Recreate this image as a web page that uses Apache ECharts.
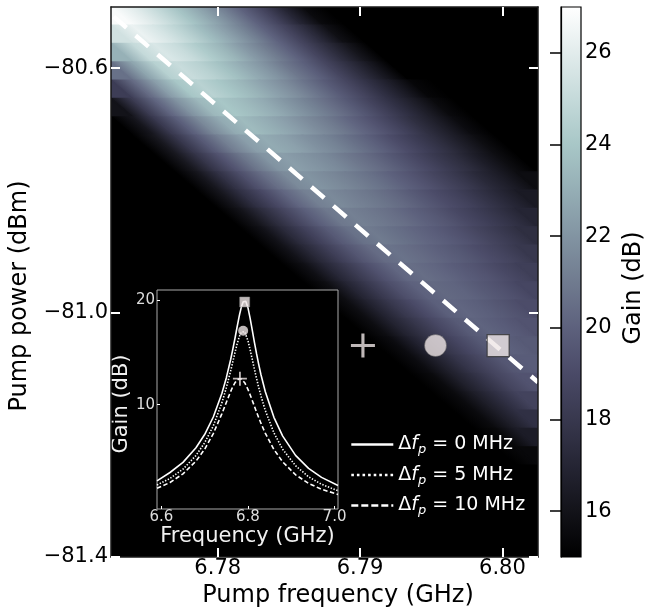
<!DOCTYPE html>
<html>
<head>
<meta charset="utf-8">
<script src="https://cdn.jsdelivr.net/npm/echarts@6/dist/echarts.min.js"></script>
<style>
html,body{margin:0;padding:0;background:#fff;}
#chart{width:647px;height:616px;}
</style>
</head>
<body>
<div id="chart"></div>
<script>
// ---------- data ----------
// gain-map cell centres
const freqCols = [6.77325, 6.77475, 6.77625, 6.77775, 6.77925, 6.78075, 6.78225, 6.78375, 6.78525, 6.78675,
                  6.78825, 6.78975, 6.79125, 6.79275, 6.79425, 6.79575, 6.79725, 6.79875, 6.80025, 6.80175];
const powerRows = [-80.515, -80.545, -80.575, -80.605, -80.635, -80.665, -80.695, -80.725, -80.755, -80.785,
                   -80.815, -80.845, -80.875, -80.905, -80.935, -80.965, -80.995, -81.025, -81.055, -81.085,
                   -81.115, -81.145, -81.175, -81.205, -81.235, -81.265, -81.295, -81.325, -81.355, -81.385];
// gain (dB), one row per pump power (top row first), one value per frequency column
const gainGrid = [
  [26.8, 26.0, 25.0, 23.9, 22.7, 21.4, 20.0, 18.6, 17.0, 15.5, 15, 15, 15, 15, 15, 15, 15, 15, 15, 15],
  [25.4, 26.3, 25.6, 24.7, 23.6, 22.5, 21.3, 20.0, 18.7, 17.3, 15.8, 15, 15, 15, 15, 15, 15, 15, 15, 15],
  [23.1, 25.0, 25.7, 25.1, 24.2, 23.3, 22.2, 21.1, 20.0, 18.7, 17.4, 16.1, 15, 15, 15, 15, 15, 15, 15, 15],
  [20.6, 22.7, 24.5, 25.1, 24.6, 23.8, 22.9, 22.0, 20.9, 19.9, 18.7, 17.5, 16.3, 15.0, 15, 15, 15, 15, 15, 15],
  [18.3, 20.4, 22.4, 24.0, 24.6, 24.0, 23.3, 22.5, 21.7, 20.7, 19.7, 18.7, 17.6, 16.5, 15.3, 15, 15, 15, 15, 15],
  [16.0, 18.2, 20.2, 22.0, 23.4, 24.0, 23.5, 22.9, 22.1, 21.3, 20.5, 19.6, 18.6, 17.6, 16.6, 15.5, 15, 15, 15, 15],
  [15, 16.1, 18.1, 19.9, 21.6, 22.9, 23.5, 23.0, 22.4, 21.7, 21.0, 20.2, 19.4, 18.5, 17.5, 16.6, 15.6, 15, 15, 15],
  [15, 15, 16.2, 18.0, 19.7, 21.2, 22.4, 22.9, 22.5, 21.9, 21.3, 20.6, 19.9, 19.1, 18.3, 17.5, 16.6, 15.7, 15, 15],
  [15, 15, 15, 16.2, 17.9, 19.4, 20.8, 22.0, 22.4, 22.0, 21.5, 20.9, 20.3, 19.6, 18.9, 18.1, 17.4, 16.5, 15.7, 15],
  [15, 15, 15, 15, 16.1, 17.7, 19.2, 20.5, 21.6, 22.0, 21.6, 21.1, 20.6, 20.0, 19.4, 18.7, 18.0, 17.2, 16.5, 15.7],
  [15, 15, 15, 15, 15, 16.1, 17.6, 18.9, 20.2, 21.2, 21.6, 21.2, 20.8, 20.3, 19.7, 19.1, 18.5, 17.8, 17.1, 16.4],
  [15, 15, 15, 15, 15, 15, 16.0, 17.4, 18.7, 19.9, 20.9, 21.2, 20.9, 20.5, 20.0, 19.5, 18.9, 18.3, 17.7, 17.0],
  [15, 15, 15, 15, 15, 15, 15, 15.9, 17.3, 18.5, 19.7, 20.6, 21.0, 20.6, 20.2, 19.8, 19.3, 18.7, 18.1, 17.5],
  [15, 15, 15, 15, 15, 15, 15, 15, 15.9, 17.2, 18.4, 19.5, 20.4, 20.7, 20.4, 20.0, 19.6, 19.1, 18.6, 18.0],
  [15, 15, 15, 15, 15, 15, 15, 15, 15, 15.8, 17.1, 18.2, 19.3, 20.2, 20.5, 20.2, 19.8, 19.4, 18.9, 18.4],
  [15, 15, 15, 15, 15, 15, 15, 15, 15, 15, 15.7, 17.0, 18.1, 19.2, 20.0, 20.3, 20.1, 19.7, 19.3, 18.8],
  [15, 15, 15, 15, 15, 15, 15, 15, 15, 15, 15, 15.7, 16.9, 18.0, 19.0, 19.9, 20.2, 19.9, 19.5, 19.1],
  [15, 15, 15, 15, 15, 15, 15, 15, 15, 15, 15, 15, 15.7, 16.9, 17.9, 18.9, 19.7, 20.1, 19.8, 19.4],
  [15, 15, 15, 15, 15, 15, 15, 15, 15, 15, 15, 15, 15, 15.6, 16.8, 17.9, 18.8, 19.6, 20.0, 19.7],
  [15, 15, 15, 15, 15, 15, 15, 15, 15, 15, 15, 15, 15, 15, 15.6, 16.7, 17.8, 18.7, 19.5, 19.8],
  [15, 15, 15, 15, 15, 15, 15, 15, 15, 15, 15, 15, 15, 15, 15, 15.5, 16.7, 17.7, 18.7, 19.4],
  [15, 15, 15, 15, 15, 15, 15, 15, 15, 15, 15, 15, 15, 15, 15, 15, 15.5, 16.6, 17.6, 18.6],
  [15, 15, 15, 15, 15, 15, 15, 15, 15, 15, 15, 15, 15, 15, 15, 15, 15, 15.5, 16.6, 17.6],
  [15, 15, 15, 15, 15, 15, 15, 15, 15, 15, 15, 15, 15, 15, 15, 15, 15, 15, 15.4, 16.5],
  [15, 15, 15, 15, 15, 15, 15, 15, 15, 15, 15, 15, 15, 15, 15, 15, 15, 15, 15, 15.4],
  [15, 15, 15, 15, 15, 15, 15, 15, 15, 15, 15, 15, 15, 15, 15, 15, 15, 15, 15, 15],
  [15, 15, 15, 15, 15, 15, 15, 15, 15, 15, 15, 15, 15, 15, 15, 15, 15, 15, 15, 15],
  [15, 15, 15, 15, 15, 15, 15, 15, 15, 15, 15, 15, 15, 15, 15, 15, 15, 15, 15, 15],
  [15, 15, 15, 15, 15, 15, 15, 15, 15, 15, 15, 15, 15, 15, 15, 15, 15, 15, 15, 15],
  [15, 15, 15, 15, 15, 15, 15, 15, 15, 15, 15, 15, 15, 15, 15, 15, 15, 15, 15, 15]
];
// dashed optimum line (end points)
const ridgeFreq = [6.7725, 6.8025];
const ridgePower = [-80.512, -81.114];
// operating points in the main map: plus, circle, square
const markerFreq = [6.7902, 6.7953, 6.7997];
const markerPower = [-81.054, -81.054, -81.054];
// inset gain curves
const insetFreq = [6.59, 6.62, 6.65, 6.68, 6.70, 6.72, 6.74, 6.75, 6.76, 6.765, 6.77, 6.775, 6.78, 6.7815, 6.785,
                   6.789, 6.7925, 6.795, 6.80, 6.805, 6.81, 6.815, 6.82, 6.825, 6.83, 6.84, 6.86, 6.88, 6.91, 6.94, 6.97, 7.008];
const gainSolid  = [2.7, 3.5, 4.47, 5.87, 7.14, 8.82, 11.1, 12.57, 14.31, 15.3, 16.35, 17.45, 18.51, 18.8, 19.4,
                    19.86, 20.0, 19.92, 19.31, 18.31, 17.15, 15.98, 14.87, 13.84, 12.9, 11.27, 8.79, 7.01, 5.14, 3.89, 3.03, 2.25];
const gainDotted = [2.3, 2.93, 3.82, 5.13, 6.35, 7.97, 10.2, 11.61, 13.22, 14.1, 14.98, 15.82, 16.52, 16.69, 16.98,
                    17.1, 16.99, 16.8, 16.15, 15.29, 14.35, 13.4, 12.5, 11.64, 10.86, 9.46, 7.3, 5.74, 4.15, 3.09, 2.37, 1.75];
const gainDashed = [1.98, 2.54, 3.37, 4.59, 5.73, 7.23, 9.15, 10.21, 11.26, 11.73, 12.1, 12.37, 12.49, 12.5, 12.46,
                    12.31, 12.11, 11.92, 11.47, 10.96, 10.41, 9.85, 9.28, 8.75, 8.23, 7.27, 5.71, 4.53, 3.28, 2.46, 1.89, 1.4];
// inset peak markers: plus (10 MHz), circle (5 MHz), square (0 MHz)
const peakFreq = [6.7815, 6.789, 6.7925];
const peakGain = [12.5, 17.1, 19.85];
const legendNames = ['0 MHz', '5 MHz', '10 MHz'];
// ticks
const freqTicks = [6.78, 6.79, 6.80];
const powerTicks = [-81.4, -81.0, -80.6];
const gainTicks = [16, 18, 20, 22, 24, 26];
const insetFreqTicks = [6.6, 6.8, 7.0];
const insetGainTicks = [10, 20];
const gainMin = 15, gainMax = 27;

// ---------- style ----------
const FONT = 'DejaVu Sans';
const MARK = '#efe6e6';
const PLUS = 'path://M8.7,0H11.3V8.7H20V11.3H11.3V20H8.7V11.3H0V8.7H8.7Z';
const bone = ['#000000', '#131319', '#252534', '#38384e', '#4a4a67', '#5d617d', '#707b8f', '#8294a2',
              '#95aeb5', '#a8c7c7', '#c5dada', '#e2ecec', '#ffffff'];

const nCols = freqCols.length;
const rowStep = Math.abs(powerRows[1] - powerRows[0]);
const heatData = [];
gainGrid.forEach((row, r) => row.forEach((g, i) => heatData.push([freqCols[i], powerRows[r], g])));

// each cell is shaded towards its right-hand neighbour and sheared along the ridge direction
function renderCell(params, api) {
  const idx = params.dataIndexInside;
  const col = idx % nCols;
  const c0 = api.coord([api.value(0), api.value(1)]);
  const hh = api.size([0, rowStep])[1] / 2;
  const r0 = api.coord([ridgeFreq[0], ridgePower[0]]);
  const r1 = api.coord([ridgeFreq[1], ridgePower[1]]);
  const s = hh * (r1[0] - r0[0]) / (r1[1] - r0[1]);
  const top = c0[1] - hh, bot = c0[1] + hh;
  const colA = api.visual('color');
  const kids = [];
  if (col < nCols - 1) {
    const c1 = api.coord([api.value(0, idx + 1), api.value(1, idx + 1)]);
    const colB = api.visual('color', idx + 1);
    const k = (c1[0] - c0[0]) * hh / (hh * hh + s * s);
    const grad = new echarts.graphic.LinearGradient(c0[0], c0[1], c0[0] + k * hh, c0[1] - k * s,
      [{offset: 0, color: colA}, {offset: 1, color: colB}], true);
    kids.push({type: 'polygon',
      shape: {points: [[c0[0] - s, top], [c1[0] - s, top], [c1[0] + s, bot], [c0[0] + s, bot]]},
      style: {fill: grad, stroke: grad, lineWidth: 1.6}});
  } else {
    kids.push({type: 'polygon',
      shape: {points: [[c0[0] - s, top], [c0[0] + 80, top], [c0[0] + 80, bot], [c0[0] + s, bot]]},
      style: {fill: colA, stroke: colA, lineWidth: 1.6}});
  }
  if (col === 0) {
    kids.push({type: 'polygon',
      shape: {points: [[c0[0] - 80, top], [c0[0] - s, top], [c0[0] + s, bot], [c0[0] - 80, bot]]},
      style: {fill: colA, stroke: colA, lineWidth: 1.6}});
  }
  return {type: 'group', children: kids};
}

const minusFmt = v => (v < 0 ? '\u2212' : '') + Math.abs(v).toFixed(1);
const frameLine = {show: true, onZero: false, lineStyle: {color: '#1a1a1a', width: 1.5}};
const whiteTick = vals => ({show: true, inside: true, length: 9, customValues: vals, lineStyle: {color: '#fff', width: 2}});

const chart = echarts.init(document.getElementById('chart'), null, {renderer: 'canvas'});
const option = {
  animation: false,
  backgroundColor: '#fff',
  textStyle: {fontFamily: FONT},
  grid: [
    {left: 111, top: 7, width: 427, height: 550, show: true, backgroundColor: '#000', borderWidth: 0},
    {left: 157, top: 290, width: 181, height: 219, show: true, backgroundColor: '#000',
     borderColor: '#aaaaaa', borderWidth: 1, z: 3},
    {left: 561, top: 7, width: 22, height: 550, show: true, backgroundColor: 'transparent',
     borderColor: '#000', borderWidth: 1.2, z: 10}
  ],
  visualMap: {
    show: false, type: 'continuous', seriesIndex: 0, dimension: 2,
    min: gainMin, max: gainMax, inRange: {color: bone}
  },
  xAxis: [
    {gridIndex: 0, type: 'value', min: 6.7725, max: 6.8025, position: 'bottom', z: 10,
     axisLine: frameLine, axisTick: whiteTick(freqTicks), splitLine: {show: false},
     axisLabel: {customValues: freqTicks, formatter: v => v.toFixed(2), color: '#000', fontSize: 21, margin: 1, fontFamily: FONT},
     name: 'Pump frequency (GHz)', nameLocation: 'middle', nameGap: 27,
     nameTextStyle: {fontSize: 24, color: '#000', fontFamily: FONT, padding: [0, 0, 0, 27]}},
    {gridIndex: 0, type: 'value', min: 6.7725, max: 6.8025, position: 'top', z: 10,
     axisLine: frameLine, axisTick: whiteTick(freqTicks), splitLine: {show: false}, axisLabel: {show: false}},
    {gridIndex: 1, type: 'value', min: 6.59, max: 7.008, position: 'bottom', z: 6,
     axisLine: {show: false}, splitLine: {show: false},
     axisTick: {show: true, inside: true, length: 3, customValues: insetFreqTicks, lineStyle: {color: '#fff', width: 1}},
     axisLabel: {customValues: insetFreqTicks, formatter: v => v.toFixed(1), color: '#dddddd', fontSize: 15, margin: 1, fontFamily: FONT},
     name: 'Frequency (GHz)', nameLocation: 'middle', nameGap: 13,
     nameTextStyle: {fontSize: 21, color: '#f0f0f0', fontFamily: FONT}},
    {gridIndex: 2, type: 'value', min: 0, max: 1, show: false}
  ],
  yAxis: [
    {gridIndex: 0, type: 'value', min: -81.4, max: -80.5, position: 'left', z: 10,
     axisLine: frameLine, axisTick: whiteTick(powerTicks), splitLine: {show: false},
     axisLabel: {customValues: powerTicks, formatter: minusFmt, color: '#000', fontSize: 21, margin: 3, fontFamily: FONT},
     name: 'Pump power (dBm)', nameLocation: 'middle', nameGap: 79,
     nameTextStyle: {fontSize: 24, color: '#000', fontFamily: FONT, padding: [0, 28, 0, 0]}},
    {gridIndex: 0, type: 'value', min: -81.4, max: -80.5, position: 'right', z: 10,
     axisLine: frameLine, axisTick: whiteTick(powerTicks), splitLine: {show: false}, axisLabel: {show: false}},
    {gridIndex: 1, type: 'value', min: 0, max: 21, position: 'left', z: 6,
     axisLine: {show: false}, splitLine: {show: false},
     axisTick: {show: true, inside: true, length: 3, customValues: insetGainTicks, lineStyle: {color: '#fff', width: 1}},
     axisLabel: {customValues: insetGainTicks, color: '#dddddd', fontSize: 15, margin: 2, fontFamily: FONT},
     name: 'Gain (dB)', nameLocation: 'middle', nameGap: 19,
     nameTextStyle: {fontSize: 21, color: '#f0f0f0', fontFamily: FONT, padding: [0, 9, 0, 0]}},
    {gridIndex: 2, type: 'value', min: gainMin, max: gainMax, position: 'right', z: 11,
     axisLine: {show: true, lineStyle: {color: '#000', width: 1.2}}, splitLine: {show: false},
     axisTick: {show: true, inside: true, length: 11, customValues: gainTicks, lineStyle: {color: '#000', width: 1.5}},
     axisLabel: {customValues: gainTicks, color: '#000', fontSize: 21, margin: 4, fontFamily: FONT},
     name: 'Gain (dB)', nameLocation: 'middle', nameGap: 41,
     nameTextStyle: {fontSize: 24, color: '#000', fontFamily: FONT, padding: [0, 12, 0, 0]}}
  ],
  legend: {
    orient: 'vertical', left: 345, top: 430, itemWidth: 42, itemHeight: 14, itemGap: 9,
    selectedMode: false, z: 8, itemStyle: {opacity: 0},
    data: [
      {name: legendNames[0], lineStyle: {width: 2.6, type: 'solid'}},
      {name: legendNames[1], lineStyle: {width: 2.6, type: [2.6, 3]}},
      {name: legendNames[2], lineStyle: {width: 2.6, type: [7, 3]}}
    ],
    formatter: n => '{d|\u0394}{f|f}{p|p}{t| = ' + n + '}',
    textStyle: {
      color: '#fff', fontSize: 19, fontFamily: FONT,
      rich: {
        d: {color: '#fff', fontSize: 19, lineHeight: 24, fontFamily: FONT},
        f: {color: '#fff', fontSize: 19, lineHeight: 24, fontStyle: 'italic', fontFamily: FONT},
        p: {color: '#fff', fontSize: 13, lineHeight: 24, fontStyle: 'italic', verticalAlign: 'bottom', fontFamily: FONT},
        t: {color: '#fff', fontSize: 19, lineHeight: 24, fontFamily: FONT}
      }
    }
  },
  series: [
    {type: 'custom', xAxisIndex: 0, yAxisIndex: 0, z: 2, silent: true, clip: true,
     data: heatData, renderItem: renderCell},
    {type: 'line', xAxisIndex: 0, yAxisIndex: 0, z: 5, silent: true, symbol: 'none',
     data: ridgeFreq.map((f, i) => [f, ridgePower[i]]),
     lineStyle: {color: '#fff', width: 4.5, type: [17, 12], dashOffset: 25.5, cap: 'butt'}},
    {type: 'scatter', xAxisIndex: 0, yAxisIndex: 0, z: 6, silent: true,
     data: [[markerFreq[0], markerPower[0]]], symbol: PLUS, symbolSize: 24, itemStyle: {color: MARK}},
    {type: 'scatter', xAxisIndex: 0, yAxisIndex: 0, z: 6, silent: true,
     data: [[markerFreq[1], markerPower[1]]], symbol: 'circle', symbolSize: 22,
     itemStyle: {color: MARK, borderColor: '#555', borderWidth: 0.6}},
    {type: 'scatter', xAxisIndex: 0, yAxisIndex: 0, z: 6, silent: true,
     data: [[markerFreq[2], markerPower[2]]], symbol: 'rect', symbolSize: 22,
     itemStyle: {color: MARK, borderColor: '#333', borderWidth: 1.2}},
    {type: 'line', name: legendNames[0], xAxisIndex: 2, yAxisIndex: 2, z: 5, silent: true, symbol: 'none',
     itemStyle: {color: '#fff'},
     data: insetFreq.map((f, i) => [f, gainSolid[i]]), lineStyle: {color: '#fff', width: 1.6, type: 'solid'}},
    {type: 'line', name: legendNames[1], xAxisIndex: 2, yAxisIndex: 2, z: 5, silent: true, symbol: 'none',
     itemStyle: {color: '#fff'},
     data: insetFreq.map((f, i) => [f, gainDotted[i]]), lineStyle: {color: '#fff', width: 1.6, type: [1.4, 1.6]}},
    {type: 'line', name: legendNames[2], xAxisIndex: 2, yAxisIndex: 2, z: 5, silent: true, symbol: 'none',
     itemStyle: {color: '#fff'},
     data: insetFreq.map((f, i) => [f, gainDashed[i]]), lineStyle: {color: '#fff', width: 1.6, type: [4.5, 2.5]}},
    {type: 'scatter', xAxisIndex: 2, yAxisIndex: 2, z: 6, silent: true,
     data: [[peakFreq[0], peakGain[0]]], symbol: PLUS, symbolSize: 14, itemStyle: {color: MARK}},
    {type: 'scatter', xAxisIndex: 2, yAxisIndex: 2, z: 6, silent: true,
     data: [[peakFreq[1], peakGain[1]]], symbol: 'circle', symbolSize: 10, itemStyle: {color: MARK}},
    {type: 'scatter', xAxisIndex: 2, yAxisIndex: 2, z: 6, silent: true,
     data: [[peakFreq[2], peakGain[2]]], symbol: 'rect', symbolSize: 10,
     itemStyle: {color: MARK, borderColor: '#888', borderWidth: 0.6}},
    {type: 'custom', xAxisIndex: 3, yAxisIndex: 3, z: 2, silent: true,
     data: [[0, gainMin, gainMax]],
     renderItem: (params, api) => {
       const p0 = api.coord([0, api.value(1)]);
       const p1 = api.coord([1, api.value(2)]);
       const stops = bone.map((c, k) => ({offset: k / (bone.length - 1), color: c}));
       return {type: 'rect',
               shape: {x: p0[0], y: p1[1], width: p1[0] - p0[0], height: p0[1] - p1[1]},
               style: {fill: new echarts.graphic.LinearGradient(0, 1, 0, 0, stops)}};
     }}
  ]
};
chart.setOption(option);
</script>
</body>
</html>
